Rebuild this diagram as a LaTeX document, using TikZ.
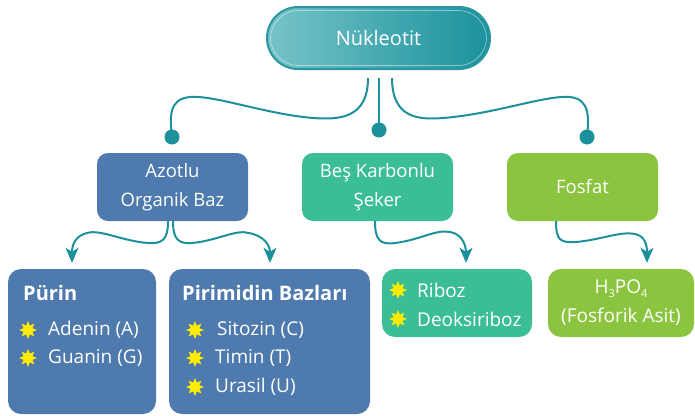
\documentclass[tikz,border=0pt]{standalone}
\usepackage{fontspec}
\setmainfont{Open Sans}
\usetikzlibrary{arrows.meta,shapes.geometric}
\definecolor{tealc}{HTML}{1C919C}
\definecolor{blueb}{HTML}{4E7AAD}
\definecolor{greenb}{HTML}{3BBD96}
\definecolor{limeb}{HTML}{8BC540}
\definecolor{stary}{HTML}{FFEC00}
\definecolor{topl}{HTML}{76C3C8}
\definecolor{topr}{HTML}{1A929C}
\definecolor{topedge}{HTML}{2A97A0}
\tikzset{
  conn/.style={draw=tealc, line width=2pt},
  arr/.style={conn, -{Stealth[length=15pt,width=13pt,inset=4pt]}},
  dotnode/.style={circle, fill=tealc, inner sep=0pt, minimum size=15pt},
  lvtwo/.style={rounded corners=11pt, minimum width=151pt, minimum height=68pt, text=white, align=center, inner sep=0pt, font=\fontsize{18.5}{29}\selectfont},
  leafbox/.style={rounded corners=13pt, inner sep=0pt},
  bullet/.style={star, star points=8, star point ratio=1.9, fill=stary, inner sep=0pt, minimum size=18pt},
  item/.style={anchor=west, text=white, font=\fontsize{19}{22}\selectfont, inner sep=0pt},
  title/.style={anchor=west, text=white, font=\fontsize{20}{24}\selectfont\bfseries, inner sep=0pt},
}
\begin{document}
\begin{tikzpicture}[x=1pt,y=-1pt]
\useasboundingbox (0,0) rectangle (695,415);
% top node
\node[rounded corners=31pt, minimum width=223pt, minimum height=62pt, left color=topl, right color=topr, draw=topedge, line width=2pt, text=white, font=\fontsize{20}{24}\selectfont] (top) at (378.5,38) {Nükleotit};
\draw[white, opacity=0.45, line width=0.8pt, rounded corners=28pt] (270.5,10.5) rectangle (486.5,65.5);
% level two
\node[lvtwo, fill=blueb] (azot) at (172.5,187) {Azotlu\\Organik Baz};
\node[lvtwo, fill=greenb] (seker) at (377.5,187) {Beş Karbonlu\\Şeker};
\node[lvtwo, fill=limeb] (fosfat) at (582.5,187) {Fosfat};
% dots
\node[dotnode] (d1) at (172,137) {};
\node[dotnode] (d2) at (379,130) {};
\node[dotnode] (d3) at (587,137) {};
% top connectors
\draw[conn] ([xshift=-10.5pt,yshift=-8pt]top.south) .. controls (368,118) and (340,120) .. (313,118)
  .. controls (265,114) and (215,95) .. (190,97) .. controls (168,99) and (170,118) .. (d1.center);
\draw[conn] ([xshift=0.5pt,yshift=-8pt]top.south) -- (d2.center);
\draw[conn] ([xshift=13.5pt,yshift=-8pt]top.south) .. controls (392,118) and (418,120) .. (443,118)
  .. controls (495,114) and (545,95) .. (570,97) .. controls (590,99) and (589,118) .. (d3.center);
% leaf boxes
\node[leafbox, fill=blueb, minimum width=148pt, minimum height=145pt] (purin) at (82,341.5) {};
\node[leafbox, fill=blueb, minimum width=201pt, minimum height=145pt] (pirim) at (269.5,341.5) {};
\node[leafbox, fill=greenb, minimum width=150pt, minimum height=68pt] (riboz) at (457,303) {};
\node[leafbox, fill=limeb, minimum width=146pt, minimum height=68pt, text=white, align=center, font=\fontsize{19}{29}\selectfont] (h3po) at (621,303) {H\raisebox{-4pt}{\fontsize{11}{12}\selectfont 3}PO\raisebox{-4pt}{\fontsize{11}{12}\selectfont 4}\\(Fosforik Asit)};
% arrows
\draw[arr] ([xshift=-4.5pt]azot.south) .. controls (168,240) and (162,244) .. (148,243)
  .. controls (122,241) and (100,229) .. (87,233) .. controls (75,236) and (72,245) .. ([xshift=-10pt,yshift=6pt]purin.north);
\draw[arr] ([xshift=0.5pt]azot.south) .. controls (173,240) and (179,244) .. (192,243)
  .. controls (216,241) and (236,229) .. (249,233) .. controls (264,236) and (270,245) .. ([xshift=0.5pt,yshift=6pt]pirim.north);
\draw[arr] ([xshift=-2.5pt]seker.south) .. controls (375,240) and (380,245) .. (395,243)
  .. controls (420,240) and (436,229) .. (450,232) .. controls (462,234) and (466,245) .. ([xshift=9pt,yshift=6pt]riboz.north);
\draw[arr] ([xshift=-26.5pt]fosfat.south) .. controls (556,240) and (560,243) .. (576,242)
  .. controls (600,240) and (620,231) .. (635,234) .. controls (645,236) and (647,245) .. ([xshift=26pt,yshift=6pt]h3po.north);
% Purin content
\node[title] (t1) at (23,293) {Pürin};
\node[bullet] (s1) at (28,330) {};
\node[bullet] (s2) at (28,358) {};
\node[item] (i1) at (48,330) {Adenin (A)};
\node[item] (i2) at (48,358) {Guanin (G)};
% Pirimidin content
\node[title] (t2) at (182,293) {Pirimidin Bazları};
\node[bullet] (s3) at (195,330) {};
\node[bullet] (s4) at (195,358) {};
\node[bullet] (s5) at (195,387) {};
\node[item] (i3) at (217,330) {Sitozin (C)};
\node[item] (i4) at (215,358) {Timin (T)};
\node[item] (i5) at (215,387) {Urasil (U)};
% Riboz content
\node[bullet] (s6) at (398,290) {};
\node[bullet] (s7) at (398,319) {};
\node[item] (i6) at (417,290) {Riboz};
\node[item] (i7) at (417,319) {Deoksiriboz};
\end{tikzpicture}
\end{document}
